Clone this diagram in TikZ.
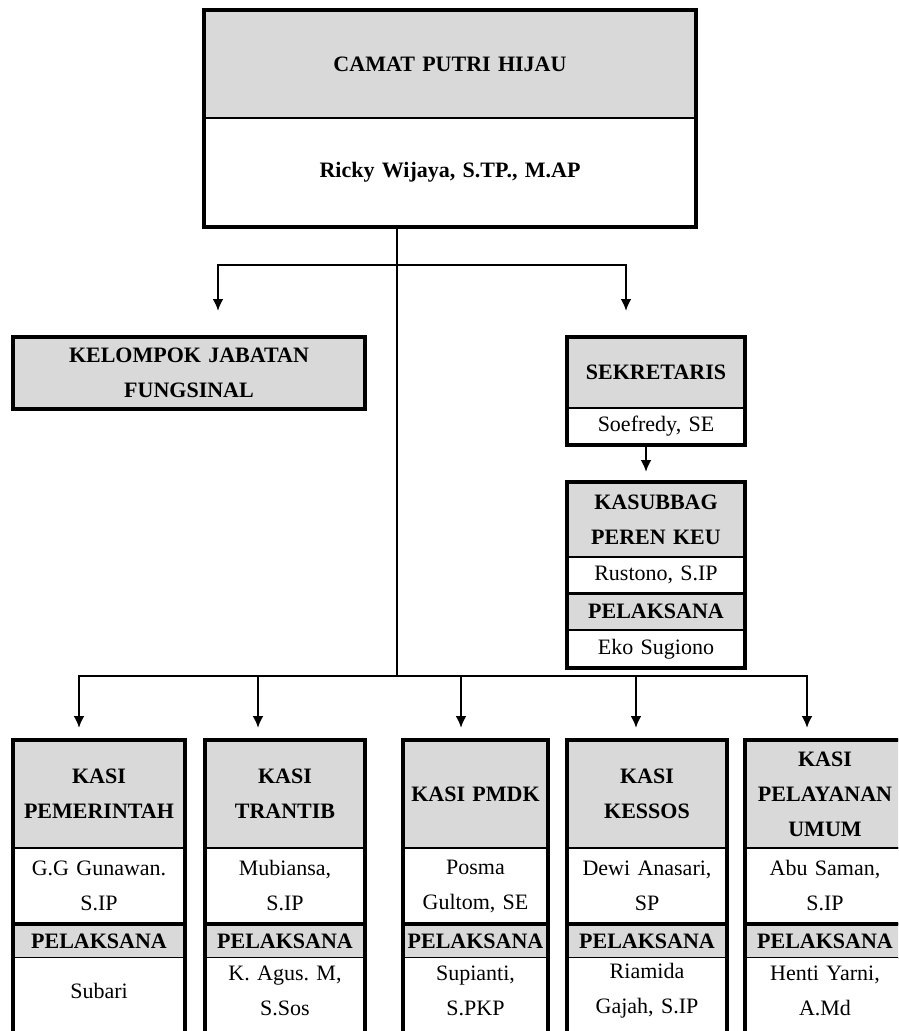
\documentclass[tikz,border=0pt]{standalone}
\usepackage{fontspec}
\setmainfont{Liberation Serif}
\usetikzlibrary{arrows.meta,positioning}
\frenchspacing

\begin{document}
\begin{tikzpicture}[
  x=1pt, y=-1pt,
  font=\fontsize{22}{35}\selectfont,
  cell/.style={draw, line width=1.5pt, inner sep=0pt, outer sep=0pt,
    align=center, anchor=north, fill=white},
  hd/.style={cell, fill=black!15, font=\fontsize{22}{35}\selectfont\bfseries},
  frame/.style={line width=3.5pt},
  link/.style={line width=2.5pt},
  arr/.style={-{Latex[length=12pt,width=11pt]}, line width=2.5pt}
]
\useasboundingbox (0,0) rectangle (898,1031);
\clip (0,0) rectangle (898,1031);

% camat
\node[hd, text width=492pt, minimum height=108pt] (camat) at (450,10) {CAMAT PUTRI HIJAU};
\node[cell, text width=492pt, minimum height=109pt, below=0pt of camat,
  font=\fontsize{22}{35}\selectfont\bfseries] (camatnm) {Ricky Wijaya, S.TP., M.AP};
\draw[frame] (camat.north west) rectangle (camatnm.south east);

% kelompok jabatan fungsional
\node[hd, text width=352pt, minimum height=72pt] (kjf) at (189,337) {KELOMPOK JABATAN\\ FUNGSINAL};
\draw[frame] (kjf.north west) rectangle (kjf.south east);

% sekretaris
\node[hd, text width=178pt, minimum height=71pt] (sek) at (656,337) {SEKRETARIS};
\node[cell, text width=178pt, minimum height=37pt, below=0pt of sek] (seknm) {Soefredy, SE};
\draw[frame] (sek.north west) rectangle (seknm.south east);

% kasubbag
\node[hd, text width=178pt, minimum height=75pt] (kasub) at (656,482) {KASUBBAG\\ PEREN KEU};
\node[cell, text width=178pt, minimum height=36pt, below=0pt of kasub] (kasubnm) {Rustono, S.IP};
\node[hd, text width=178pt, minimum height=37pt, below=0pt of kasubnm] (kasubp) {PELAKSANA};
\node[cell, text width=178pt, minimum height=38pt, below=0pt of kasubp] (kasubs) {Eko Sugiono};
\draw[frame] (kasub.north west) rectangle (kasubs.south east);
\draw[line width=3pt] (kasubp.north west) -- (kasubp.north east);

% kasi pemerintah
\node[hd, text width=172pt, minimum height=108pt] (k1) at (99,740) {KASI\\ PEMERINTAH};
\node[cell, text width=172pt, minimum height=76pt, below=0pt of k1] (k1n) {G.G Gunawan.\\ S.IP};
\node[hd, text width=172pt, minimum height=34pt, below=0pt of k1n] (k1p) {PELAKSANA};
\node[cell, draw=none, text width=172pt, minimum height=66pt, below=0pt of k1p] (k1s) {Subari};

% kasi trantib
\node[hd, text width=160pt, minimum height=108pt] (k2) at (285,740) {KASI\\ TRANTIB};
\node[cell, text width=160pt, minimum height=76pt, below=0pt of k2] (k2n) {Mubiansa,\\ S.IP};
\node[hd, text width=160pt, minimum height=34pt, below=0pt of k2n] (k2p) {PELAKSANA};
\node[cell, draw=none, text width=160pt, minimum height=66pt, below=0pt of k2p] (k2s) {K. Agus. M,\\ S.Sos};

% kasi pmdk
\node[hd, text width=145pt, minimum height=108pt] (k3) at (475.5,740) {KASI PMDK};
\node[cell, text width=145pt, minimum height=76pt, below=0pt of k3] (k3n) {Posma\\ Gultom, SE};
\node[hd, text width=145pt, minimum height=34pt, below=0pt of k3n] (k3p) {PELAKSANA};
\node[cell, draw=none, text width=145pt, minimum height=66pt, below=0pt of k3p] (k3s) {Supianti,\\ S.PKP};

% kasi kessos
\node[hd, text width=160pt, minimum height=108pt] (k4) at (647,740) {KASI\\ KESSOS};
\node[cell, text width=160pt, minimum height=76pt, below=0pt of k4] (k4n) {Dewi Anasari,\\ SP};
\node[hd, text width=160pt, minimum height=34pt, below=0pt of k4n] (k4p) {PELAKSANA};
\node[cell, draw=none, text width=160pt, minimum height=66pt, below=0pt of k4p] (k4s) {Riamida\\ Gajah, S.IP};

% kasi pelayanan umum
\node[hd, text width=160pt, minimum height=108pt] (k5) at (825,740) {KASI\\ PELAYANAN\\ UMUM};
\node[cell, text width=160pt, minimum height=76pt, below=0pt of k5] (k5n) {Abu Saman,\\ S.IP};
\node[hd, text width=160pt, minimum height=34pt, below=0pt of k5n] (k5p) {PELAKSANA};
\node[cell, draw=none, text width=160pt, minimum height=66pt, below=0pt of k5p] (k5s) {Henti Yarni,\\ A.Md};

% frames of the kasi boxes
\draw[frame] (k1.north west) rectangle ([yshift=-40pt]k1s.south east);
\draw[frame] (k2.north west) rectangle ([yshift=-40pt]k2s.south east);
\draw[frame] (k3.north west) rectangle ([yshift=-40pt]k3s.south east);
\draw[frame] (k4.north west) rectangle ([yshift=-40pt]k4s.south east);
\draw[frame] (k5.north west) rectangle ([yshift=-40pt]k5s.south east);
\draw[line width=4pt] (k1p.north west) -- (k1p.north east); \draw[line width=4pt] (k2p.north west) -- (k2p.north east);
\draw[line width=4pt] (k3p.north west) -- (k3p.north east); \draw[line width=4pt] (k4p.north west) -- (k4p.north east);
\draw[line width=4pt] (k5p.north west) -- (k5p.north east);

% connectors
\coordinate (hub) at (397,265);
\coordinate (hub2) at (397,676);
\draw[link] ([xshift=-53pt]camatnm.south) -- (hub2);
\draw[arr, shorten >=26pt] (hub) -| ([xshift=29pt]kjf.north);
\draw[arr, shorten >=26pt] (hub) -| ([xshift=-30pt]sek.north);
\draw[arr, shorten >=10pt] ([xshift=-10pt]seknm.south) -- ([xshift=-10pt]kasub.north);
\draw[arr, shorten >=12pt] (hub2) -| ([xshift=-20pt]k1.north);
\draw[arr, shorten >=12pt] (hub2) -| ([xshift=-27pt]k2.north);
\draw[arr, shorten >=12pt] (hub2) -| ([xshift=-14.5pt]k3.north);
\draw[arr, shorten >=12pt] (hub2) -| ([xshift=-11pt]k4.north);
\draw[arr, shorten >=12pt] (hub2) -| ([xshift=-18pt]k5.north);
\end{tikzpicture}
\end{document}
